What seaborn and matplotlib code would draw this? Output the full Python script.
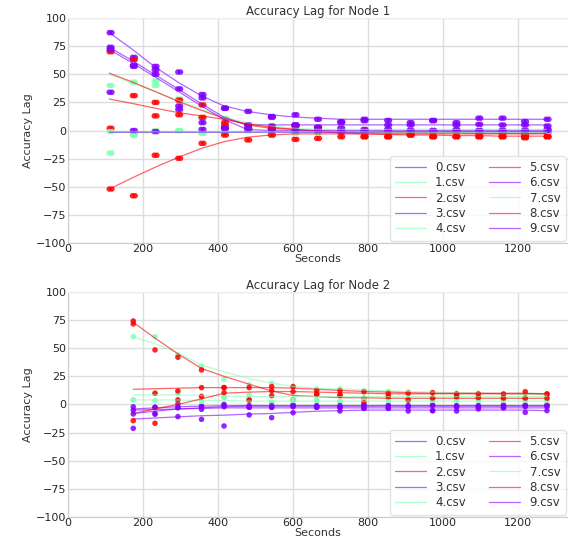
import matplotlib
matplotlib.use("Agg")
from matplotlib import pyplot as plt
import numpy as np
import pandas as pd
import seaborn as sns

# ---- data ----
series_names = [f"{i}.csv" for i in range(10)]

# node 1: each run sampled twice in quick succession
times_1a = [110, 172, 230, 293, 355, 415, 477, 540, 603, 663,
            725, 787, 850, 910, 970, 1032, 1093, 1155, 1215, 1275]
times_1b = [117, 179, 237, 300, 362, 422, 484, 547, 610, 670,
            732, 794, 857, 917, 977, 1039, 1100, 1162, 1222, 1282]

node1_points = {
    "0.csv": [87, 65, 57, 37, 29, 20, 17, 12.5, 14, 10, 8, 10, 9, 7, 9, 7, 11, 11, 8, 10],
    "1.csv": [40, 43, 44, 28, 10.8, 10.8, 0.4, -4, -2, -1, 2.5, -1, -1, -1, -1, -1, -1, -1, -1, -1],
    "2.csv": [70, 63, 25, 27, 22.7, 7, 1.9, 1.9, 4, 2.5, -1, -1, -1, -2.5, -1, 0.4, -2.5, -2.5, -4, -2],
    "3.csv": [74, 58, 54, 52, 32, 19.7, 5, 4, 5, 2.5, 2, 1, 1, 0, 0, 0.4, 0, 0, 0, 1],
    "4.csv": [-20, -4, 0, 0, -2.5, -2.5, 0, -4, -2, -2, -1, -1, -1, -1, -1, -1, -1, -1, -1, -1],
    "5.csv": [2, 31, 13, 14, 11.7, 4.3, 1.9, 1.9, 4, 2.5, -1, -5.5, -5.5, -4, -5.5, -5.5, -5.5, -5.5, -6.3, -5.5],
    "6.csv": [72, 57, 50, 21.8, 7, 1.9, 4.9, 11.7, 4.9, 3, 7, 8.7, 4.9, 4.9, 8.7, 4.9, 5.5, 4.9, 4.9, 4],
    "7.csv": [-1, -4, 40, 0, -2.5, -2.5, 0.4, -4, -2, -1, 0, -1, -1, -1, -1, -1, -1, -1, -1, -1],
    "8.csv": [-52, -58, -22, -24.7, -11.4, -4, -8.4, -4, -7.9, -7, -5.5, -5.5, -5.5, -4, -5.5, -5.5, -5.5, -5.5, -6.3, -5.5],
    "9.csv": [34, 0, -1, 18.8, 1, 1.9, 1, 1, 0, 0, 0, 0, 0, 0, 0, 0, 0, 0, 0, 0],
}
node1_trend = {
    "0.csv": [87, 72, 57, 43, 31, 22, 17, 14, 12, 11, 10, 10, 10, 10, 10, 10, 10, 10, 10, 10],
    "1.csv": [50, 42, 35, 27, 19, 12, 7, 4, 2, 1, 1, 1, 1, 1, 1, 1, 1, 1, 1, 1],
    "2.csv": [51, 43, 35, 26, 18, 11, 5, 2, 1, 0, -1, -1.5, -2, -2, -2, -2, -2.5, -2.5, -2.5, -2.5],
    "3.csv": [74, 62, 50, 37, 24, 12, 5, 5, 5, 5, 5, 5, 5, 5, 5, 5, 5, 5, 5, 5],
    "4.csv": [-1, -1, -1, -1, -1, -1, -1, -1, -1, -1, -1, -1, -1, -1, -1, -1, -1, -1, -1, -1],
    "5.csv": [28, 24, 20, 16, 13, 10, 6, 3, 1, -1, -2, -3, -3.5, -4, -4, -4.5, -4.5, -5, -5, -5],
    "6.csv": [72, 60, 48, 35, 22, 10, 1, 0, 0, 0, 0, 0, 0, 0, 0, 0, 0, 0, 0, 0],
    "7.csv": [0, 0, 0, 0, 0, 0, 0, 0, 0, 0, 0, 0, 0, 0, 0, 0, 0, 0, 0, 0],
    "8.csv": [-52, -42, -33, -24, -16, -10, -6, -4, -3, -3, -3, -3, -3, -3, -3, -3, -3, -3, -3, -3],
    "9.csv": [-1.5, -1.5, -1.5, -1.5, -1.5, -1.5, -1.5, -1.5, -1.5, -1.5, -1.5, -1.5, -1, -1, -1, -1, -1, -1, -1, -1],
}

# node 2: one sample per step
times_2 = [174, 232, 293, 356, 416, 483, 543, 600, 663, 725,
           789, 854, 907, 972, 1036, 1094, 1161, 1219, 1277]

node2_points = {
    "0.csv": [-2, -2.5, 0.4, -1.3, 0.1, -2.5, -2.5, -0.4, -2, -2.5, -0.4, -1, -2, -0.4, -2, -2, -0.4, -0.4, -0.4],
    "1.csv": [60.3, 60.3, 44, 34.2, 22.4, 17.3, 18.8, 16, 13.8, 13.8, 12, 11.4, 11, 10.5, 10, 10, 9.5, 9.5, 9],
    "2.csv": [71.6, 48.5, 42, 30.7, 15, 4, 7.9, 4, 9.1, 8.2, 5.5, 7, 4, 5.5, 7, 6.1, 5.5, 5.5, 9.3],
    "3.csv": [-5, -8.7, -2.5, -4.3, -2, -2.5, -2.5, -2, -2.5, -2.5, -3.4, -3.4, -2, -5.5, -2, -2, -2.8, -2, -2],
    "4.csv": [4, 9.9, 9.9, 7.6, 6.4, 8.5, 2, 4, 4, 2.5, 5, 5, 5, 5, 5, 5, 5, 5, 5.5],
    "5.csv": [74.2, 10, 12, 15, 15, 15, 15.9, 15.9, 12.3, 12.3, 11.4, 10, 10, 10.5, 9.3, 9.3, 9.3, 11.4, 9.3],
    "6.csv": [-8.4, -2.5, -10.8, -13.2, -19.1, -9.3, -11.7, -7.3, -2.5, -5.8, -3.4, -3.4, -5.8, -5.5, -5.8, -4, -2.8, -7, -5.5],
    "7.csv": [4, 3.4, 4, 2.5, 6.4, 3, 2, 3, 3, 2.5, 3, 3, 3, 3, 3, 3, 3, 3, 3],
    "8.csv": [-14.4, -16.7, 4, 7, 10.5, 4, 12.3, 11.4, 9.1, 8.2, 1.7, 7, 4, 5.5, 7, 6.1, 5.5, 5.5, 5.5],
    "9.csv": [-21.2, -8, -3, -2, -1, -1, -1, -1, -1, -1, -1, -1, -1, -1, -1, -1, -1, -1, -1],
}
node2_trend = {
    "0.csv": [-4, -3, -2, -1.5, -1, -1, -1, -1, -1, -1, -1, -1, -1, -1, -1, -1, -1, -1, -1],
    "1.csv": [60, 54, 46, 35, 29, 23, 19, 16, 14.5, 13.8, 13, 12, 11.5, 11, 10.5, 10, 9.5, 9, 8.5],
    "2.csv": [73, 59, 45, 32, 25, 18, 12, 8, 7, 6, 6, 5.5, 5.5, 5.5, 5.5, 5.5, 5.5, 5.5, 5.5],
    "3.csv": [-5, -4.5, -4, -3.5, -3, -3, -3, -3, -3, -3, -3, -3, -3, -3, -3, -3, -3, -3, -3],
    "4.csv": [8.5, 8.5, 8.5, 8, 7.5, 7, 7, 7, 7, 7, 7, 7, 7, 7, 7, 7, 7, 7, 7],
    "5.csv": [13.5, 14, 14.5, 15, 15, 15, 15, 14.5, 13.5, 12.5, 11.5, 11, 10.5, 10, 10, 10, 10, 10, 9.5],
    "6.csv": [-13, -12, -11, -10, -9.5, -8.5, -8, -7, -6, -5.5, -5, -5, -5, -5, -5, -5, -5, -5, -5.5],
    "7.csv": [4, 4, 4, 3.5, 3.5, 3, 3, 3, 3, 3, 3, 3, 3, 3, 3, 3, 3, 3, 3],
    "8.csv": [-8, -4, 0, 5, 10, 11, 11.5, 11.5, 11, 10.5, 10, 9.5, 9.5, 9.5, 9.5, 9.5, 9.5, 9.5, 9.5],
    "9.csv": [-8, -6, -4, -3, -2, -1.5, -1.5, -1.5, -1.5, -1.5, -1.5, -1.5, -1.5, -1.5, -1.5, -1.5, -1.5, -1.5, -1.5],
}

y_ticks = [-100, -75, -50, -25, 0, 25, 50, 75, 100]
x_ticks = [0, 200, 400, 600, 800, 1000, 1200]


def _long(times_list, values: dict) -> pd.DataFrame:
    rows = []
    for name in series_names:
        for times in times_list:
            for t, v in zip(times, values[name]):
                rows.append({"file": name, "seconds": t, "lag": v})
    return pd.DataFrame(rows)


sns.set_style("whitegrid")
plt.rcParams["font.family"] = ["DejaVu Sans"]

cols = plt.cm.rainbow(np.linspace(0, 1, 3))
palette = {name: cols[i % 3] for i, name in enumerate(series_names)}

fig = plt.figure(figsize=(5.68, 5.41), dpi=100)
ax1 = fig.add_axes([0.1197, 0.5508, 0.8803, 0.4159])
ax2 = fig.add_axes([0.1197, 0.0444, 0.8803, 0.4159])

panels = [
    (ax1, "Accuracy Lag for Node 1", [times_1a, times_1b], node1_points, [times_1a], node1_trend),
    (ax2, "Accuracy Lag for Node 2", [times_2], node2_points, [times_2], node2_trend),
]

for ax, title, pt_times, pts, tr_times, trend in panels:
    df_pts = _long(pt_times, pts)
    df_tr = _long(tr_times, trend)

    sns.scatterplot(data=df_pts, x="seconds", y="lag", hue="file", palette=palette,
                    s=16, alpha=0.85, edgecolor=None, linewidth=0, legend=False, ax=ax)
    sns.lineplot(data=df_tr, x="seconds", y="lag", hue="file", palette=palette,
                 estimator=None, sort=True, linewidth=0.9, alpha=0.6, ax=ax)

    ax.set_xlim(0, 1333)
    ax.set_ylim(-100, 100)
    ax.set_xticks(x_ticks)
    ax.set_yticks(y_ticks)
    ax.tick_params(labelsize=8, pad=1, length=0, labelcolor="#262626")
    ax.set_title(title, fontsize=8.5, pad=2, color="#333333")
    ax.set_xlabel("Seconds", fontsize=8, labelpad=0, color="#333333")
    ax.set_ylabel("Accuracy Lag", fontsize=8, labelpad=2, color="#333333")
    for sp in ["top", "right"]:
        ax.spines[sp].set_color("#eeeeee")
    for sp in ["left", "bottom"]:
        ax.spines[sp].set_color("#cccccc")
    ax.grid(color="#dddddd", linewidth=1.0)

    leg = ax.legend(loc="lower right", ncol=2, fontsize=8.5, frameon=True,
                    handlelength=2.6, columnspacing=2.0, labelspacing=0.2,
                    borderpad=0.45, borderaxespad=0.2, title=None)
    leg.get_frame().set_edgecolor("#dddddd")
    leg.get_frame().set_facecolor("white")
    for txt in leg.get_texts():
        txt.set_color("#333333")

fig.savefig("out.png", dpi=100)
